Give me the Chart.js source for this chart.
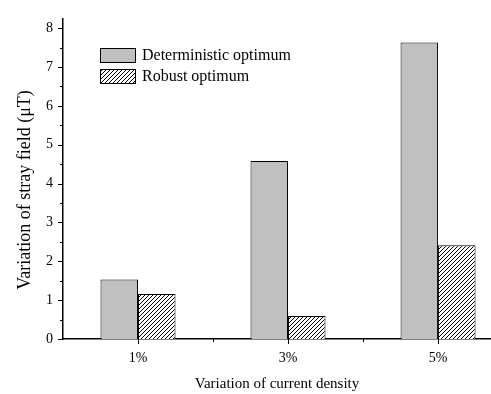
<!DOCTYPE html>
<html>
<head>
<meta charset="utf-8">
<script src="https://cdn.jsdelivr.net/npm/chart.js@4"></script>
<style>
  html, body { margin: 0; padding: 0; background: #fff; }
  #wrap { width: 491px; height: 394px; }
</style>
</head>
<body>
<div id="wrap"><canvas id="bar-chart"></canvas></div>
<script>
// valores
const categories = ['1%', '3%', '5%'];
const catPos = [1, 2, 3];
const deterministic = [1.53, 4.58, 7.63];
const robust = [1.16, 0.59, 2.41];
const yTicks = [0, 1, 2, 3, 4, 5, 6, 7, 8];

const serif = "'Liberation Serif', 'Times New Roman', serif";
const yTitle = 'Variation of stray field (\u03bcT)';

// padrão tracejado para o robusto
function hatch() {
  const c = document.createElement('canvas');
  c.width = 4; c.height = 4;
  const g = c.getContext('2d');
  g.fillStyle = '#fff';
  g.fillRect(0, 0, 4, 4);
  g.strokeStyle = '#000';
  g.lineWidth = 1;
  g.beginPath();
  g.moveTo(0, 4); g.lineTo(4, 0);
  g.moveTo(-1, 1); g.lineTo(1, -1);
  g.moveTo(3, 5); g.lineTo(5, 3);
  g.stroke();
  return g.createPattern(c, 'repeat');
}
const hatchFill = hatch();

// marcas dos eixos (maiores e menores) + título do eixo y
const tickMarks = {
  id: 'tickMarks',
  afterDraw(chart) {
    const ctx = chart.ctx;
    const x = chart.scales.x, y = chart.scales.y;
    ctx.save();
    ctx.strokeStyle = '#000';
    ctx.lineWidth = 1;
    ctx.beginPath();
    for (let v = 0; v <= 8; v += 0.5) {
      const p = Math.round(y.getPixelForValue(v)) + 0.5;
      const len = Number.isInteger(v) ? 5 : 3;
      ctx.moveTo(x.left - len, p); ctx.lineTo(x.left, p);
    }
    for (let v = 1; v <= 3; v += 0.5) {
      const p = Math.round(x.getPixelForValue(v)) + 0.5;
      const len = Number.isInteger(v) ? 5 : 3;
      ctx.moveTo(p, y.bottom); ctx.lineTo(p, y.bottom + len);
    }
    ctx.stroke();

    ctx.translate(25, 190);
    ctx.rotate(-Math.PI / 2);
    ctx.font = '18px ' + serif;
    ctx.fillStyle = '#000';
    ctx.textAlign = 'center';
    ctx.textBaseline = 'middle';
    ctx.fillText(yTitle, 0, 0);
    ctx.restore();
  }
};

// legenda dentro da área
const boxLegend = {
  id: 'boxLegend',
  afterDraw(chart) {
    const ctx = chart.ctx;
    ctx.save();
    ctx.font = '16px ' + serif;
    ctx.textBaseline = 'middle';
    chart.data.datasets.forEach((ds, i) => {
      const top = 48 + i * 21;
      ctx.fillStyle = ds.backgroundColor;
      ctx.fillRect(100, top, 36, 14);
      ctx.strokeStyle = '#000';
      ctx.lineWidth = 1;
      ctx.strokeRect(100.5, top + 0.5, 35, 14);
      ctx.fillStyle = '#000';
      ctx.fillText(ds.label, 142, top + 8);
    });
    ctx.restore();
  }
};

new Chart(document.getElementById('bar-chart'), {
  type: 'bar',
  data: {
    datasets: [
      {
        label: 'Deterministic optimum',
        data: catPos.map((x, i) => ({ x: x, y: deterministic[i] })),
        backgroundColor: '#c0c0c0',
        borderColor: '#000',
        borderWidth: 1,
      },
      {
        label: 'Robust optimum',
        data: catPos.map((x, i) => ({ x: x, y: robust[i] })),
        backgroundColor: hatchFill,
        borderColor: '#000',
        borderWidth: 1,
      },
    ],
  },
  plugins: [tickMarks, boxLegend],
  options: {
    responsive: true,
    maintainAspectRatio: false,
    animation: false,
    barPercentage: 1,
    categoryPercentage: 0.5,
    layout: { padding: { top: 6, right: 0, left: 0, bottom: 0 } },
    plugins: {
      legend: { display: false },
      tooltip: { enabled: false },
    },
    scales: {
      x: {
        type: 'linear',
        min: 0.5,
        max: 3.353,
        offset: false,
        afterBuildTicks: (s) => { s.ticks = catPos.map(v => ({ value: v })); },
        afterFit: (s) => { s.height = 55; },
        grid: { display: false, drawTicks: false },
        border: { color: '#000', width: 1.5 },
        ticks: {
          padding: 11,
          color: '#000',
          font: { family: serif, size: 14 },
          callback: (v) => categories[catPos.indexOf(v)],
        },
        title: {
          display: true,
          text: 'Variation of current density',
          color: '#000',
          font: { family: serif, size: 15 },
          padding: { top: 4, bottom: 1 },
        },
      },
      y: {
        min: 0,
        max: 8.25,
        afterBuildTicks: (s) => { s.ticks = yTicks.map(v => ({ value: v })); },
        afterFit: (s) => { s.width = 63; },
        grid: { display: false, drawTicks: false },
        border: { color: '#000', width: 1.5 },
        ticks: {
          padding: 10,
          color: '#000',
          font: { family: serif, size: 14 },
        },
        title: { display: false, text: yTitle },
      },
    },
  },
});
</script>
</body>
</html>
